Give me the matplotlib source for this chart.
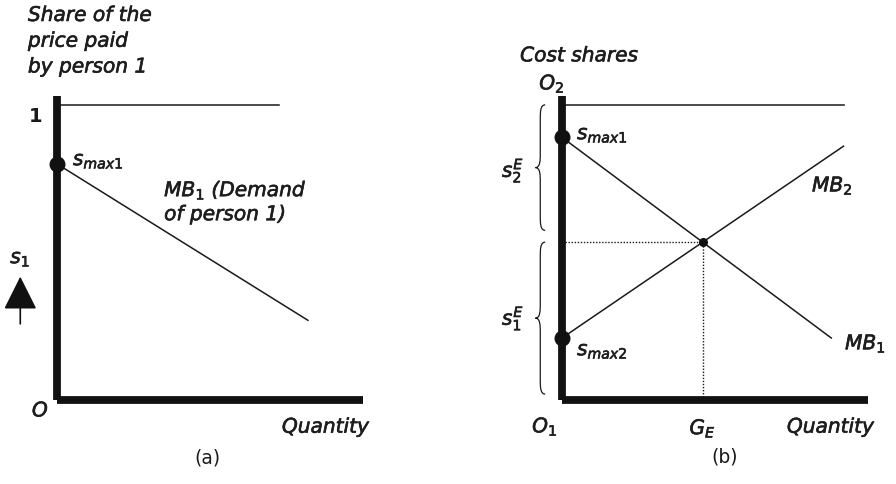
import numpy as np
import matplotlib
matplotlib.use("Agg")
import matplotlib.pyplot as plt
import matplotlib.patheffects as pe
from matplotlib.path import Path
from matplotlib.patches import PathPatch

plt.rcParams["font.family"] = ["DejaVu Sans"]
plt.rcParams["mathtext.fontset"] = "dejavusans"
plt.rcParams["mathtext.default"] = "it"

# panel (a): share of price paid by person 1
a_top = 1.0
a_top_end = 7.25
a_mb1_q = [0.0, 8.2]
a_mb1_s = [0.80, 0.27]

# panel (b): cost shares
b_top = 1.0
b_top_end = 9.2
b_mb1_q = [0.0, 8.8]
b_mb1_s = [0.89, 0.21]
b_mb2_q = [0.0, 9.2]
b_mb2_s = [0.21, 0.86]

X_MAX = 10.0
Y_MAX = 1.03
FS = 14.5
INK = "#1e1e1e"
THICK = [pe.withStroke(linewidth=0.45, foreground=INK)]
TXT = dict(fontsize=FS, style="italic", color=INK, path_effects=THICK)


def line_params(q, s):
    k = (s[1] - s[0]) / (q[1] - q[0])
    return k, s[0]


def brace(ax, y0, y1, x0=-0.55, w=0.32):
    # left-pointing curly brace between y0 and y1
    ym = 0.5 * (y0 + y1)
    xm = x0 - w / 2
    xt = x0 - w
    h = 0.025
    verts = [
        (x0, y1), (xm, y1), (xm, y1 - h), (xm, y1 - 2 * h),
        (xm, ym + 2 * h),
        (xm, ym + h), (xm, ym), (xt, ym),
        (xm, ym), (xm, ym - h), (xm, ym - 2 * h),
        (xm, y0 + 2 * h),
        (xm, y0 + h), (xm, y0), (x0, y0),
    ]
    codes = [Path.MOVETO, Path.CURVE4, Path.CURVE4, Path.CURVE4,
             Path.LINETO,
             Path.CURVE4, Path.CURVE4, Path.CURVE4,
             Path.CURVE4, Path.CURVE4, Path.CURVE4,
             Path.LINETO,
             Path.CURVE4, Path.CURVE4, Path.CURVE4]
    ax.add_patch(PathPatch(Path(verts, codes), fc="none", ec="#1a1a1a",
                           lw=0.9, clip_on=False))


def setup(ax):
    ax.set_xlim(0, X_MAX)
    ax.set_ylim(0, Y_MAX)
    for side in ("top", "right"):
        ax.spines[side].set_visible(False)
    for side in ("left", "bottom"):
        ax.spines[side].set_linewidth(5.6)
        ax.spines[side].set_color("#111111")
        ax.spines[side].set_capstyle("butt")
    ax.set_xticks([])
    ax.set_yticks([])
    ax.patch.set_alpha(0)


fig = plt.figure(figsize=(8.96, 4.85), dpi=100)
W, H = 896.0, 485.0
axa = fig.add_axes([57 / W, (H - 401) / H, 306 / W, 304 / H])
axb = fig.add_axes([562 / W, (H - 401) / H, 306 / W, 304 / H])
setup(axa)
setup(axb)

# ---- panel (a)
ax = axa
ax.plot([0.1, a_top_end], [a_top, a_top], color="#1a1a1a", lw=1.1)
ax.plot(a_mb1_q, a_mb1_s, color="#1a1a1a", lw=1.1)
ax.plot([0], [a_mb1_s[0]], "o", color="#111111", ms=10.5, clip_on=False)
ax.text(-0.95, 1.335, "Share of the\nprice paid\nby person 1", ha="left",
        va="top", linespacing=1.45, **TXT)
ax.text(-0.69, a_top - 0.035, "1", ha="center", va="center", fontsize=14,
        fontweight="bold", color="#1a1a1a")
ax.text(0.52, a_mb1_s[0] + 0.01, r"$s_{max1}$", ha="left", va="center", **TXT)
ax.text(3.5, 0.672, "MB$_1$ (Demand\nof person 1)", ha="left", va="center",
        linespacing=1.25, **TXT)
ax.text(-1.2, 0.478, r"$s_1$", ha="center", va="center", **TXT)
ax.annotate("", xy=(-1.2, 0.418), xytext=(-1.2, 0.258),
            xycoords="data", annotation_clip=False,
            arrowprops=dict(arrowstyle="-|>,head_length=2.1,head_width=1.05",
                            color="#111111", lw=1.2, mutation_scale=10,
                            shrinkA=0, shrinkB=0))
ax.text(-0.56, -0.037, "O", ha="center", va="center", **TXT)
ax.text(7.35, -0.092, "Quantity", ha="left", va="center", **TXT)
ax.text(4.9, -0.193, "(a)", ha="center", va="center", fontsize=13.5,
        color="#1a1a1a")

# ---- panel (b)
ax = axb
k1, c1 = line_params(b_mb1_q, b_mb1_s)
k2, c2 = line_params(b_mb2_q, b_mb2_s)
g_e = (c2 - c1) / (k1 - k2)
s_e = c1 + k1 * g_e

ax.plot([0.1, b_top_end], [b_top, b_top], color="#1a1a1a", lw=1.1)
ax.plot(b_mb1_q, b_mb1_s, color="#1a1a1a", lw=1.1)
ax.plot(b_mb2_q, b_mb2_s, color="#1a1a1a", lw=1.1)
ax.plot([0.1, g_e], [s_e, s_e], color="#1a1a1a", lw=1.0, ls=(0, (1, 1.2)))
ax.plot([g_e, g_e], [0, s_e], color="#1a1a1a", lw=1.0, ls=(0, (1, 1.2)))
ax.plot([0, 0], [b_mb1_s[0], b_mb2_s[0]], "o", color="#111111", ms=10.5,
        clip_on=False)
ax.plot([g_e], [s_e], "o", color="#111111", ms=5.5)

brace(ax, s_e + 0.04, b_top)
brace(ax, 0.02, s_e - 0.0)

ax.text(-1.37, 1.166, "Cost shares", ha="left", va="center", **TXT)
ax.text(-0.33, 1.07, r"$O_2$", ha="center", va="center", **TXT)
ax.text(0.49, b_mb1_s[0] + 0.008, r"$s_{max1}$", ha="left", va="center", **TXT)
ax.text(0.49, b_mb2_s[0] - 0.044, r"$s_{max2}$", ha="left", va="center", **TXT)
ax.text(8.17, 0.725, r"$MB_2$", ha="left", va="center", **TXT)
ax.text(9.25, 0.19, r"$MB_1$", ha="left", va="center", **TXT)
ax.text(-1.6, 0.776, r"$s_2^E$", ha="center", va="center", **TXT)
ax.text(-1.6, 0.275, r"$s_1^E$", ha="center", va="center", **TXT)
ax.text(-0.56, -0.092, r"$O_1$", ha="center", va="center", **TXT)
ax.text(g_e, -0.098, r"$G_E$", ha="center", va="center", **TXT)
ax.text(7.35, -0.092, "Quantity", ha="left", va="center", **TXT)
ax.text(5.33, -0.19, "(b)", ha="center", va="center", fontsize=13.5,
        color="#1a1a1a")

fig.savefig("out.png", dpi=100)
